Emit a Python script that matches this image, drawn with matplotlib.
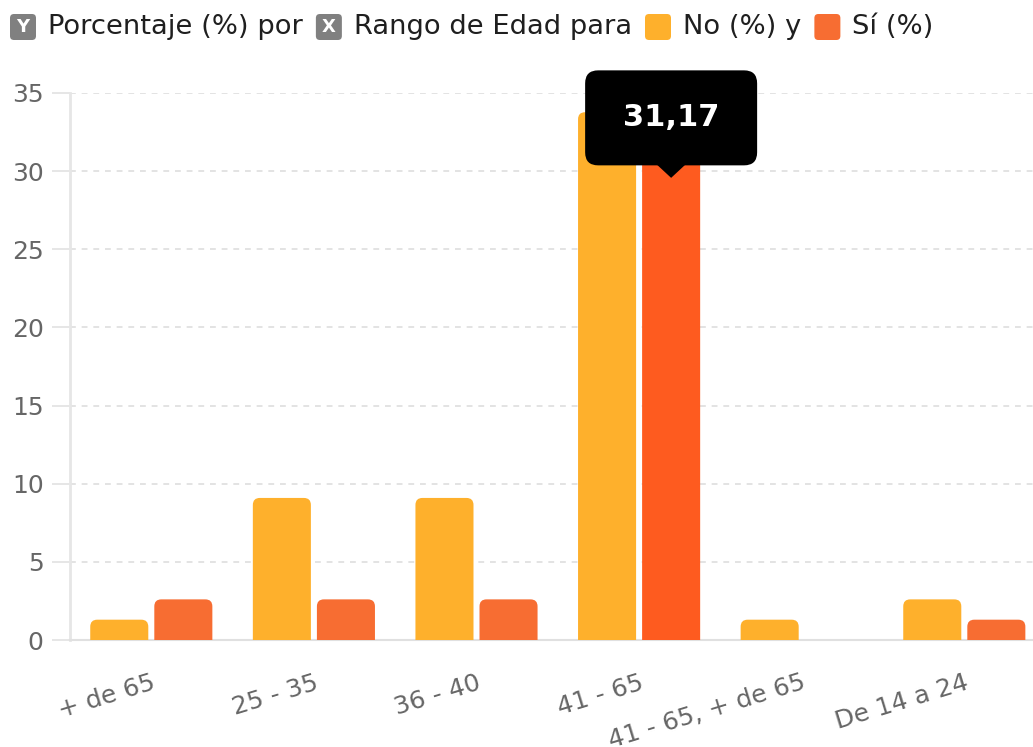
import numpy as np
import matplotlib
matplotlib.use("Agg")
import matplotlib.pyplot as plt
from matplotlib.patches import FancyBboxPatch, Polygon
from matplotlib.transforms import IdentityTransform

# datos: porcentaje por rango de edad
rangos = ['+ de 65', '25 - 35', '36 - 40', '41 - 65', '41 - 65, + de 65', 'De 14 a 24']
no_pct = [1.30, 9.09, 9.09, 33.77, 1.30, 2.60]
si_pct = [2.60, 2.60, 2.60, 31.17, 0.00, 1.30]
resaltado = 3  # barra "Sí" con la etiqueta

C_NO = '#FEB02C'
C_SI = '#F76D32'
C_SI_HL = '#FE5B1F'
GRIS = '#666666'

W, H = 1033, 747
fig = plt.figure(figsize=(W / 100, H / 100), dpi=100)
ax = fig.add_axes([70 / W, 107 / H, 975.6 / W, 547 / H])

x = np.arange(len(rangos))
ancho = 0.357
desp = 0.197
ax.set_xlim(-0.5, len(rangos) - 0.5)
ax.set_ylim(0, 35)

# barras con esquinas superiores redondeadas
px_x = (len(rangos)) / 975.6
px_y = 35 / 547
radio = 7 * px_x
aspecto = px_y / px_x

def barra(xc, h, color):
    if h <= 0:
        return
    p = FancyBboxPatch((xc - ancho / 2, -radio * aspecto * 2), ancho, h + radio * aspecto * 2,
                       boxstyle=f"round,pad=0,rounding_size={radio}",
                       mutation_aspect=aspecto, fc=color, ec='none', zorder=3)
    ax.add_patch(p)

for i in x:
    barra(i - desp, no_pct[i], C_NO)
    barra(i + desp, si_pct[i], C_SI_HL if i == resaltado else C_SI)

# ejes y rejilla
ax.set_yticks(np.arange(0, 36, 5))
ax.yaxis.grid(True, color='#e3e3e3', linestyle=(0, (3, 3)), linewidth=1.4, zorder=0)
ax.set_axisbelow(True)
for s in ['top', 'right']:
    ax.spines[s].set_visible(False)
ax.spines['left'].set_color('#e6e6e6')
ax.spines['left'].set_linewidth(2)
ax.spines['bottom'].set_color('#e0e0e0')
ax.spines['bottom'].set_linewidth(1.5)
ax.tick_params(axis='y', length=13, width=1.4, color='#e6e6e6', labelsize=18,
               labelcolor=GRIS, pad=6)
ax.set_xticks(x)
ax.set_xticklabels(rangos, rotation=17, ha='right', va='top', rotation_mode='anchor')
ax.tick_params(axis='x', length=0, labelsize=18, labelcolor=GRIS, pad=22)

# etiqueta con el valor destacado
fig.canvas.draw()
val = si_pct[resaltado]
bx, by = ax.transData.transform((resaltado + desp, val))
cy = by + 35
caja = FancyBboxPatch((bx - 86, cy - 47.5), 172, 95,
                      boxstyle="round,pad=0,rounding_size=13",
                      fc='black', ec='none', transform=IdentityTransform(), zorder=10)
fig.add_artist(caja)
fig.add_artist(Polygon([(bx - 14, cy - 47), (bx + 14, cy - 47), (bx, by - 25)],
                       closed=True, fc='black', ec='none',
                       transform=IdentityTransform(), zorder=10))
fig.text(bx, cy, f"{val:.2f}".replace('.', ','), transform=IdentityTransform(),
         ha='center', va='center', color='white', fontsize=22, fontweight='bold',
         zorder=11)

# encabezado tipo leyenda
r = fig.canvas.get_renderer()
yc = H - 27
pos = 10

def icono(color, letra=None):
    global pos
    fig.add_artist(FancyBboxPatch((pos, yc - 13), 26, 26,
                                  boxstyle="round,pad=0,rounding_size=4",
                                  fc=color, ec='none', transform=IdentityTransform()))
    if letra:
        fig.text(pos + 13, yc, letra, transform=IdentityTransform(), ha='center',
                 va='center', color='white', fontsize=13, fontweight='bold')
    pos += 26 + 12

def texto(s):
    global pos
    t = fig.text(pos, yc, s, transform=IdentityTransform(), ha='left', va='center',
                 color='#1f1f1f', fontsize=19.7)
    pos += t.get_window_extent(r).width + 13

icono('#808080', 'Y')
texto('Porcentaje (%) por')
icono('#808080', 'X')
texto('Rango de Edad para')
icono(C_NO)
texto('No (%) y')
icono(C_SI)
texto('Sí (%)')

fig.savefig('out.png', dpi=100)
